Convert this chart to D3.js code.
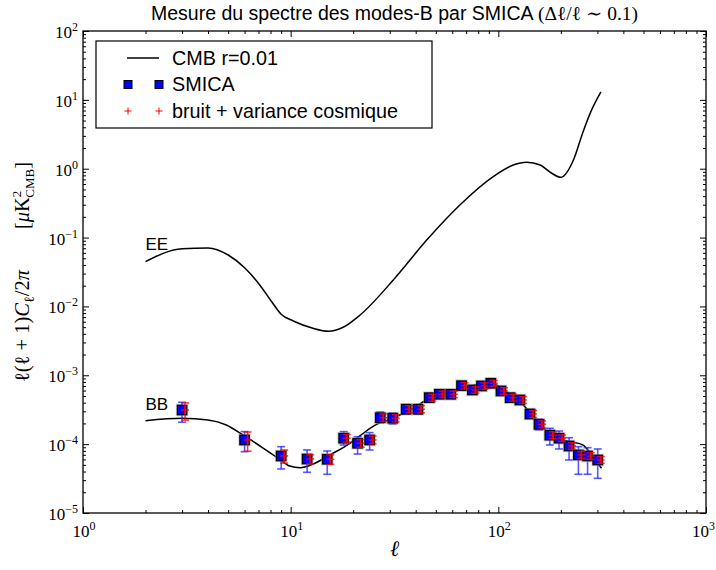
<!DOCTYPE html>
<html><head><meta charset="utf-8">
<script src="https://cdn.jsdelivr.net/npm/d3@7"></script>
<style>body{margin:0;background:#fff}svg{display:block}</style>
</head><body>
<script>
// ---- data ----
const eeEll = [2,3,4,5,6,7.1,8.1,9,10.3,12.8,15.2,17.9,21.6,31.2,45.2,65.3,94.5,118,137,159,180,200,230,256,281,312];
const eeVal = [0.0447,0.069,0.0706,0.0558,0.0365,0.0205,0.0117,0.0077,0.00615,0.00482,0.00436,0.00498,0.0075,0.0242,0.092,0.297,0.766,1.13,1.24,1.13,0.867,0.75,1.34,3.45,7.1,13.1];
const bbEll = [2,3,4,4.9,5.9,7.4,8.7,9.9,11.1,12.85,15.45,19.3,22.4,24.1,27,30.1,37.5,46.9,58.5,67.8,81.5,92.8,105.6,127,153,184,221,256,281,314];
const bbVal = [2.19e-4,2.37e-4,2.24e-4,1.9e-4,1.36e-4,8.7e-5,6.24e-5,4.82e-5,4.55e-5,5.15e-5,6.97e-5,1.03e-4,1.44e-4,1.7e-4,2.05e-4,2.3e-4,3.13e-4,4.63e-4,5.6e-4,6.6e-4,7.4e-4,7.8e-4,6.1e-4,4.14e-4,2.24e-4,1.28e-4,1.09e-4,9.7e-5,6.97e-5,4.46e-5];

const smicaEll = [3,6,9,12,15,18,21,24,27,31,36,41,46.5,52,59,66.5,75,83,92,103,114,127,142,157,177,196,219,243,269,301];
const smicaVal = [3.13e-4,1.15e-4,6.73e-5,6.08e-5,6.03e-5,1.22e-4,1.03e-4,1.15e-4,2.42e-4,2.38e-4,3.21e-4,3.21e-4,4.73e-4,5.3e-4,5.3e-4,7.06e-4,6.12e-4,7.0e-4,7.65e-4,5.92e-4,4.73e-4,4.38e-4,2.74e-4,1.94e-4,1.35e-4,1.22e-4,9.4e-5,6.97e-5,6.73e-5,5.89e-5];
const smicaHi = [4.06e-4,1.52e-4,9.19e-5,8.23e-5,7.96e-5,1.52e-4,1.28e-4,1.47e-4,2.93e-4,2.84e-4,3.77e-4,3.77e-4,5.44e-4,6.02e-4,6.02e-4,7.99e-4,6.88e-4,7.86e-4,8.55e-4,6.65e-4,5.35e-4,5.0e-4,3.19e-4,2.32e-4,1.7e-4,1.55e-4,1.24e-4,9.19e-5,8.89e-5,8.51e-5];
const smicaLo = [2.08e-4,7.77e-5,4.36e-5,3.9e-5,3.65e-5,9.72e-5,7.19e-5,8.23e-5,2.03e-4,1.96e-4,2.74e-4,2.74e-4,4.09e-4,4.68e-4,4.68e-4,6.22e-4,5.44e-4,6.22e-4,6.88e-4,5.26e-4,4.17e-4,3.83e-4,2.36e-4,1.61e-4,9.72e-5,8.51e-5,5.89e-5,3.65e-5,3.65e-5,3.19e-5];
// noise + cosmic variance (red)
const noiseHi = [3.97e-4,1.5e-4,8.23e-5,7.0e-5,7.0e-5,1.39e-4,1.17e-4,1.31e-4,2.75e-4,2.7e-4,3.62e-4,3.62e-4,5.3e-4,5.9e-4,5.9e-4,7.8e-4,6.8e-4,7.75e-4,8.4e-4,6.6e-4,5.3e-4,4.9e-4,3.08e-4,2.18e-4,1.51e-4,1.36e-4,1.05e-4,7.8e-5,7.5e-5,6.6e-5];
const noiseLo = [2.23e-4,7.9e-5,5.3e-5,5.2e-5,5.1e-5,1.07e-4,9.0e-5,1.01e-4,2.13e-4,2.1e-4,2.85e-4,2.85e-4,4.22e-4,4.75e-4,4.75e-4,6.35e-4,5.5e-4,6.3e-4,6.95e-4,5.3e-4,4.22e-4,3.9e-4,2.44e-4,1.72e-4,1.2e-4,1.09e-4,8.4e-5,6.2e-5,6.0e-5,5.25e-5];

const xMajor = [1,10,100,1000];
const xMajorExp = ["0","1","2","3"];
const yMajor = [1e-5,1e-4,1e-3,1e-2,1e-1,1,10,100];
const yMajorExp = ["\u22125","\u22124","\u22123","\u22122","\u22121","0","1","2"];

// ---- chart ----
const W=716,H=570, L=83,R=706,T=31,B=513;
const svg = d3.select("body").append("svg").attr("width",W).attr("height",H);
const x = d3.scaleLog().domain([1,1000]).range([L,R]);
const y = d3.scaleLog().domain([1e-5,1e2]).range([B,T]);

const xMinor=[],yMinor=[];
[1,10,100].forEach(d=>{for(let k=2;k<10;k++)xMinor.push(d*k);});
yMajor.slice(0,-1).forEach(d=>{for(let k=2;k<10;k++)yMinor.push(d*k);});

function ax(gen,scale,vals,size,tr){
  svg.append("g").attr("transform",tr)
    .call(gen(scale).tickValues(vals).tickSizeInner(-size).tickSizeOuter(0).tickFormat(""))
    .call(g=>{g.select(".domain").remove();g.selectAll("line").attr("stroke","#000").attr("stroke-width",1);});
}
ax(d3.axisBottom,x,xMajor,6,`translate(0,${B})`);
ax(d3.axisBottom,x,xMinor,3,`translate(0,${B})`);
ax(d3.axisTop,x,xMajor,6,`translate(0,${T})`);
ax(d3.axisTop,x,xMinor,3,`translate(0,${T})`);
ax(d3.axisLeft,y,yMajor,6,`translate(${L},0)`);
ax(d3.axisLeft,y,yMinor,3,`translate(${L},0)`);
ax(d3.axisRight,y,yMajor,6,`translate(${R},0)`);
ax(d3.axisRight,y,yMinor,3,`translate(${R},0)`);

svg.append("rect").attr("x",L).attr("y",T).attr("width",R-L).attr("height",B-T)
  .attr("fill","none").attr("stroke","#000").attr("stroke-width",1.3);

const serif = "'Liberation Serif','DejaVu Serif',serif";
const sans = "'Liberation Sans',Arial,sans-serif";

// tick labels
const xl = svg.append("g").attr("font-family",serif).attr("font-size",17);
xMajor.forEach((v,i)=>{
  const last = i===xMajor.length-1;
  const t = xl.append("text").attr("x",last? W-1 : x(v)+1).attr("y",B+24).attr("text-anchor",last?"end":"middle");
  t.append("tspan").text("10");
  t.append("tspan").attr("dy",-7).attr("font-size",12).text(xMajorExp[i]);
});
const yl = svg.append("g").attr("font-family",serif).attr("font-size",17);
yMajor.forEach((v,i)=>{
  const t = yl.append("text").attr("x",L-5).attr("y",y(v)+7).attr("text-anchor","end");
  t.append("tspan").text("10");
  t.append("tspan").attr("dy",-7).attr("font-size",12).text(yMajorExp[i]);
});

// curves
const line = d3.line().x(d=>x(d[0])).y(d=>y(d[1])).curve(d3.curveMonotoneX);
svg.append("clipPath").attr("id","clip").append("rect").attr("x",L).attr("y",T).attr("width",R-L).attr("height",B-T);
const plot = svg.append("g").attr("clip-path","url(#clip)");
plot.append("path").attr("d",line(d3.zip(eeEll,eeVal))).attr("fill","none").attr("stroke","#000").attr("stroke-width",1.5);
plot.append("path").attr("d",line(d3.zip(bbEll,bbVal))).attr("fill","none").attr("stroke","#000").attr("stroke-width",1.5);

// blue error bars
const cap=4;
smicaEll.forEach((e,i)=>{
  const cx=x(e), y1=y(smicaHi[i]), y2=y(smicaLo[i]);
  const g=plot.append("g").attr("stroke","#2020ff").attr("stroke-opacity",0.75).attr("stroke-width",1.6);
  g.append("line").attr("x1",cx).attr("x2",cx).attr("y1",y1).attr("y2",y2);
  g.append("line").attr("x1",cx-cap).attr("x2",cx+cap).attr("y1",y1).attr("y2",y1);
  g.append("line").attr("x1",cx-cap).attr("x2",cx+cap).attr("y1",y2).attr("y2",y2);
});
// squares
const sq=9.5;
smicaEll.forEach((e,i)=>{
  const cx=x(e), cy=y(smicaVal[i]);
  plot.append("rect").attr("x",cx-sq/2-1.5).attr("y",cy-sq/2-1.5).attr("width",sq+3).attr("height",sq+3)
    .attr("fill","#999").attr("opacity",0.5);
  plot.append("rect").attr("x",cx-sq/2).attr("y",cy-sq/2).attr("width",sq).attr("height",sq)
    .attr("fill","#0000ff").attr("stroke","#000").attr("stroke-width",1.2);
});
// red noise bars + plus
smicaEll.forEach((e,i)=>{
  const cx=x(e)+3, cy=y(smicaVal[i]), y1=y(noiseHi[i]), y2=y(noiseLo[i]);
  const g=plot.append("g").attr("stroke","#ff0000").attr("stroke-opacity",0.8).attr("stroke-width",1.5);
  g.append("line").attr("x1",cx).attr("x2",cx).attr("y1",y1).attr("y2",y2);
  g.append("line").attr("x1",cx-cap).attr("x2",cx+cap).attr("y1",y1).attr("y2",y1);
  g.append("line").attr("x1",cx-cap).attr("x2",cx+cap).attr("y1",y2).attr("y2",y2);
  g.append("line").attr("x1",cx-4).attr("x2",cx+4).attr("y1",cy).attr("y2",cy);
  g.append("line").attr("x1",cx).attr("x2",cx).attr("y1",cy-4).attr("y2",cy+4);
});

// curve labels
svg.append("text").attr("x",x(2)).attr("y",y(0.0447)-12).attr("font-family",sans).attr("font-size",17).text("EE");
svg.append("text").attr("x",x(2)).attr("y",y(2.19e-4)-11).attr("font-family",sans).attr("font-size",17).text("BB");

// legend
const lg = svg.append("g");
lg.append("rect").attr("x",96).attr("y",41).attr("width",336).attr("height",87).attr("fill","#fff").attr("stroke","#000").attr("stroke-width",1.2);
lg.append("line").attr("x1",127).attr("x2",159).attr("y1",58).attr("y2",58).attr("stroke","#000").attr("stroke-width",1.5);
[128,159].forEach(px=>{
  lg.append("rect").attr("x",px-4).attr("y",84.5-4).attr("width",8).attr("height",8).attr("fill","#0000ff").attr("stroke","#000").attr("stroke-width",1);
  lg.append("line").attr("x1",px-3.5).attr("x2",px+3.5).attr("y1",111).attr("y2",111).attr("stroke","#f00").attr("stroke-width",1);
  lg.append("line").attr("x1",px).attr("x2",px).attr("y1",107.5).attr("y2",114.5).attr("stroke","#f00").attr("stroke-width",1);
});
const legTexts=["CMB r=0.01","SMICA","bruit + variance cosmique"];
legTexts.forEach((s,i)=>lg.append("text").attr("x",172).attr("y",64.5+i*26.7).attr("font-family",sans).attr("font-size",19.8).text(s));

// title
const tt = svg.append("text").attr("x",(L+R)/2).attr("y",20).attr("text-anchor","middle").attr("font-size",19.5);
tt.append("tspan").attr("font-family",sans).text("Mesure du spectre des modes-B par SMICA ");
tt.append("tspan").attr("font-family",serif).text("(\u0394\u2113/\u2113 \u223C 0.1)");

// x label
svg.append("text").attr("x",(L+R)/2).attr("y",556).attr("text-anchor","middle").attr("font-family",serif).attr("font-size",22).attr("font-style","italic").text("\u2113");

// y label
const ylab = svg.append("text").attr("transform",`translate(29,${(T+B)/2}) rotate(-90)`).attr("text-anchor","middle")
  .attr("font-family",serif).attr("font-size",20.5);
ylab.append("tspan").text("\u2113(\u2113 + 1)");
ylab.append("tspan").attr("font-style","italic").text("C");
ylab.append("tspan").attr("font-size",14).attr("dy",5).text("\u2113");
ylab.append("tspan").attr("dy",-5).text("/2");
ylab.append("tspan").attr("font-style","italic").text("\u03C0");
ylab.append("tspan").text("\u2003\u2003[");
ylab.append("tspan").attr("font-style","italic").text("\u03BC");
ylab.append("tspan").text("K");
ylab.append("tspan").attr("font-size",13).attr("dy",-8).text("2");
ylab.append("tspan").attr("font-size",13).attr("dy",13).attr("dx",-7).text("CMB");
ylab.append("tspan").attr("dy",-5).text("]");
</script>
</body></html>
